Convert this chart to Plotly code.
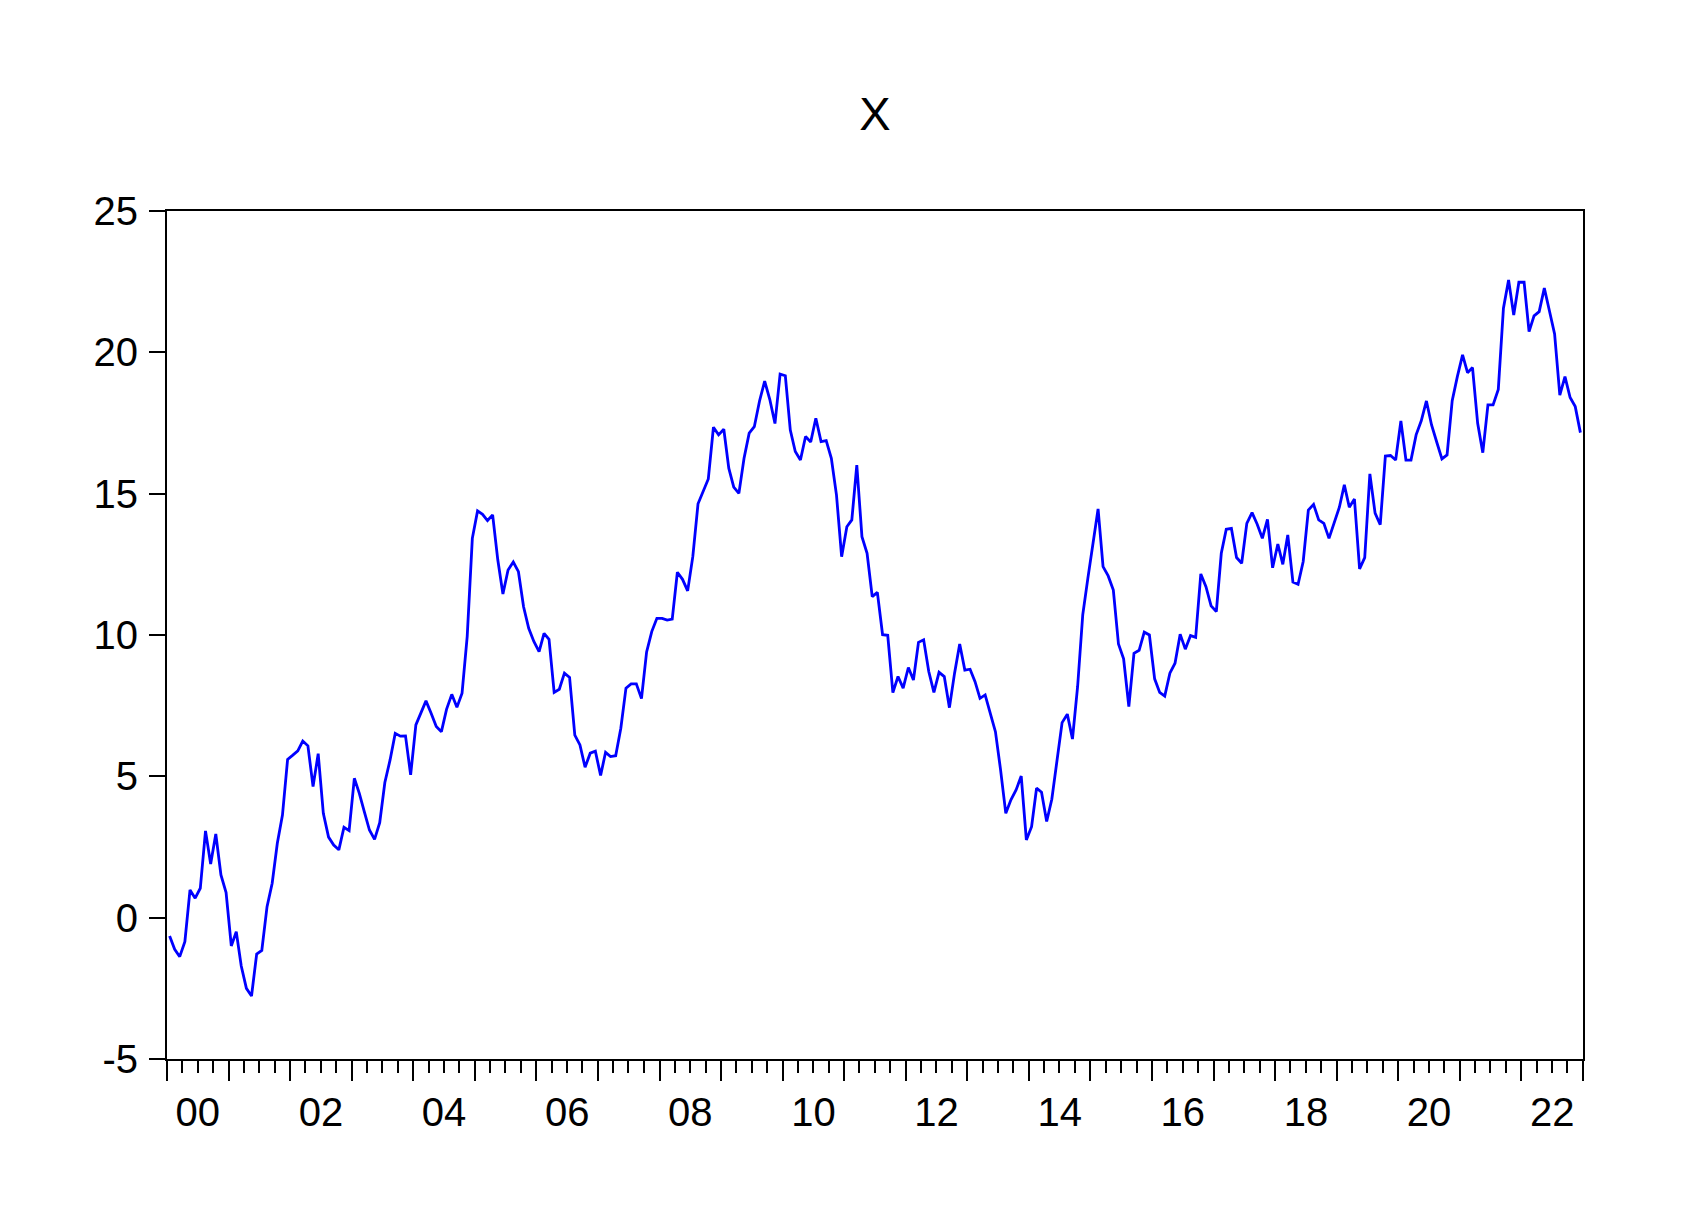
import pandas as pd
import plotly.graph_objects as go

title_text = "X"
start_month = "2000-01-01"
values = [
    -0.65, -1.12, -1.38, -0.85, 0.98, 0.69, 1.04, 3.07, 1.90, 2.96, 1.51, 0.89,
    -1.00, -0.50, -1.71, -2.50, -2.77, -1.29, -1.16, 0.39, 1.22, 2.63, 3.63, 5.60,
    5.75, 5.90, 6.25, 6.08, 4.64, 5.80, 3.69, 2.85, 2.57, 2.40, 3.20, 3.08,
    4.93, 4.40, 3.75, 3.10, 2.77, 3.36, 4.78, 5.58, 6.52, 6.42, 6.43, 5.05,
    6.82, 7.23, 7.67, 7.23, 6.76, 6.58, 7.37, 7.90, 7.44, 7.94, 9.94, 13.42,
    14.39, 14.27, 14.05, 14.25, 12.66, 11.45, 12.30, 12.58, 12.24, 11.00, 10.24, 9.77,
    9.41, 10.06, 9.85, 7.97, 8.08, 8.65, 8.50, 6.46, 6.11, 5.32, 5.82, 5.89,
    5.03, 5.85, 5.70, 5.73, 6.70, 8.12, 8.27, 8.27, 7.75, 9.40, 10.12, 10.59,
    10.59, 10.53, 10.56, 12.22, 11.97, 11.56, 12.77, 14.64, 15.07, 15.52, 17.35, 17.08,
    17.28, 15.90, 15.23, 15.01, 16.25, 17.14, 17.37, 18.28, 18.98, 18.33, 17.48, 19.23,
    19.17, 17.25, 16.49, 16.19, 17.02, 16.83, 17.67, 16.84, 16.88, 16.25, 14.95, 12.77,
    13.83, 14.07, 16.01, 13.48, 12.89, 11.36, 11.51, 10.01, 9.99, 7.96, 8.53, 8.12,
    8.85, 8.41, 9.74, 9.83, 8.71, 7.97, 8.68, 8.53, 7.43, 8.65, 9.68, 8.76,
    8.79, 8.35, 7.76, 7.88, 7.23, 6.58, 5.23, 3.69, 4.17, 4.52, 5.01, 2.75,
    3.22, 4.58, 4.44, 3.40, 4.19, 5.46, 6.90, 7.20, 6.32, 8.17, 10.71, 12.01,
    13.36, 14.46, 12.42, 12.09, 11.59, 9.68, 9.16, 7.47, 9.35, 9.46, 10.10, 10.00,
    8.45, 7.97, 7.84, 8.65, 9.00, 10.03, 9.50, 9.98, 9.92, 12.16, 11.71, 11.03,
    10.83, 12.89, 13.74, 13.77, 12.74, 12.54, 13.95, 14.33, 13.92, 13.42, 14.09, 12.38,
    13.22, 12.50, 13.54, 11.87, 11.79, 12.60, 14.42, 14.62, 14.07, 13.95, 13.42, 13.93,
    14.52, 15.31, 14.52, 14.81, 12.34, 12.74, 15.70, 14.31, 13.90, 16.33, 16.35, 16.19,
    17.57, 16.19, 16.19, 17.08, 17.58, 18.28, 17.43, 16.82, 16.23, 16.37, 18.29, 19.14,
    19.91, 19.28, 19.46, 17.49, 16.45, 18.14, 18.14, 18.69, 21.56, 22.56, 21.32, 22.48,
    22.48, 20.73, 21.29, 21.44, 22.27, 21.46, 20.65, 18.49, 19.14, 18.40, 18.08, 17.16,
]
y_ticks = [-5, 0, 5, 10, 15, 20, 25]
y_tick_labels = ["-5", "0", "5", "10", "15", "20", "25"]
y_range = [-5, 25]
x_range = ["2000-01-01", "2023-01-01"]

dates = pd.date_range(start_month, periods=len(values), freq="MS")

fig = go.Figure()
fig.add_trace(go.Scatter(
    x=dates, y=values, mode="lines",
    xperiod="M1", xperiodalignment="middle",
    line=dict(color="#0000FF", width=2.8),
    showlegend=False, hoverinfo="skip",
))

font_family = "Liberation Sans, Arial, sans-serif"
fig.update_layout(
    width=1696, height=1217,
    paper_bgcolor="white", plot_bgcolor="white",
    margin=dict(l=159, r=121, t=203, b=166),
    title=dict(text=title_text, x=0.5, xref="paper", xanchor="center",
               y=1 - 106.0 / 1217, yanchor="middle",
               font=dict(family=font_family, size=47, color="black")),
    font=dict(family=font_family, color="black"),
)
fig.update_xaxes(
    type="date", range=x_range, showgrid=False, zeroline=False,
    showline=True, linecolor="black", linewidth=2, mirror=True,
    ticks="outside", ticklen=20, tickwidth=2, tickcolor="black",
    tick0="2000-01-01", dtick="M12", tickformat="%y",
    ticklabelmode="period", ticklabelstep=2, ticklabelstandoff=-3,
    tickfont=dict(family=font_family, size=40, color="black"),
    minor=dict(dtick="M3", ticks="outside", ticklen=12, tickwidth=2, tickcolor="black", showgrid=False),
)
fig.update_yaxes(
    range=y_range, tickvals=y_ticks, ticktext=y_tick_labels,
    showgrid=False, zeroline=False,
    showline=True, linecolor="black", linewidth=2, mirror=True,
    ticks="outside", ticklen=16, tickwidth=2, tickcolor="black",
    ticklabelstandoff=3,
    tickfont=dict(family=font_family, size=40, color="black"),
)

fig.write_html("out.html")
